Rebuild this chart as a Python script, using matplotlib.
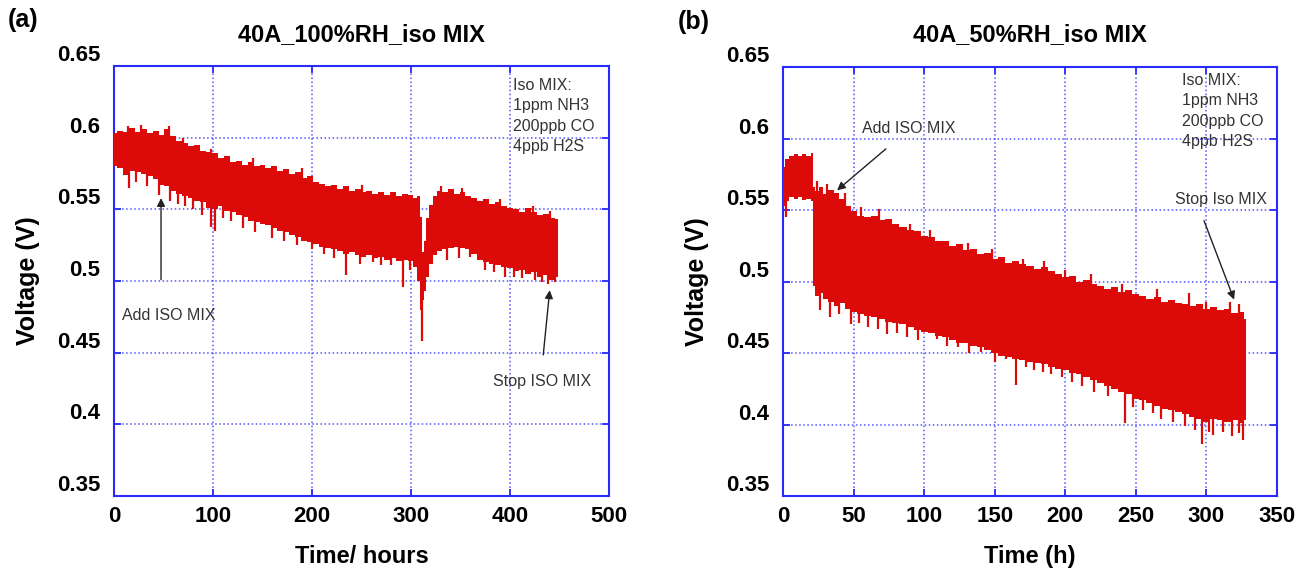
import matplotlib.pyplot as plt
import numpy as np

# ---- panel (a): 40A_100%RH, envelope of the voltage band
t_a = [0, 6, 12, 18, 24, 30, 36, 42, 48, 54, 60, 66, 72, 78, 84, 90, 96, 102, 108, 114,
       120, 126, 132, 138, 144, 150, 156, 162, 168, 174, 180, 186, 192, 198, 204, 210,
       216, 222, 228, 234, 240, 246, 252, 258, 264, 270, 276, 282, 288, 294, 300, 305,
       308, 310, 312, 314, 317, 320, 324, 328, 334, 340, 346, 352, 358, 364, 370, 376,
       382, 388, 394, 400, 406, 412, 418, 424, 430, 436, 442, 448]
top_a = [0.603, 0.605, 0.604, 0.607, 0.604, 0.606, 0.603, 0.605, 0.602, 0.606, 0.601, 0.598,
         0.596, 0.594, 0.595, 0.591, 0.590, 0.589, 0.586, 0.587, 0.583, 0.584, 0.581, 0.583,
         0.580, 0.581, 0.579, 0.580, 0.577, 0.578, 0.575, 0.576, 0.572, 0.573, 0.569, 0.568,
         0.566, 0.567, 0.564, 0.566, 0.563, 0.564, 0.562, 0.563, 0.561, 0.562, 0.560, 0.562,
         0.559, 0.561, 0.560, 0.558, 0.559, 0.545, 0.520, 0.528, 0.544, 0.553, 0.559, 0.563,
         0.562, 0.564, 0.561, 0.562, 0.559, 0.558, 0.556, 0.557, 0.554, 0.555, 0.552, 0.551,
         0.550, 0.548, 0.551, 0.548, 0.546, 0.547, 0.544, 0.543]
bot_a = [0.580, 0.579, 0.574, 0.577, 0.576, 0.575, 0.573, 0.571, 0.567, 0.566, 0.563, 0.561,
         0.559, 0.558, 0.556, 0.555, 0.551, 0.550, 0.552, 0.549, 0.548, 0.546, 0.545, 0.542,
         0.541, 0.540, 0.539, 0.537, 0.535, 0.534, 0.532, 0.531, 0.528, 0.527, 0.526, 0.524,
         0.523, 0.522, 0.521, 0.519, 0.520, 0.518, 0.517, 0.518, 0.516, 0.517, 0.515, 0.516,
         0.514, 0.515, 0.514, 0.510, 0.500, 0.480, 0.487, 0.493, 0.503, 0.512, 0.518, 0.521,
         0.522, 0.523, 0.524, 0.523, 0.522, 0.519, 0.515, 0.513, 0.512, 0.511, 0.510, 0.509,
         0.507, 0.508, 0.505, 0.506, 0.503, 0.504, 0.501, 0.503]
# isolated downward / upward spikes (time, voltage)
dn_t_a = [15, 22, 33, 45, 57, 65, 72, 80, 89, 98, 102, 110, 118, 130, 142, 160, 172, 185,
          200, 212, 222, 234, 248, 262, 270, 280, 292, 299, 311, 336, 348, 360, 375, 384,
          395, 404, 412, 425, 432, 438, 445]
dn_v_a = [0.565, 0.569, 0.566, 0.560, 0.556, 0.554, 0.552, 0.550, 0.546, 0.538, 0.535,
          0.544, 0.542, 0.537, 0.534, 0.530, 0.528, 0.525, 0.522, 0.519, 0.516, 0.504,
          0.512, 0.513, 0.511, 0.511, 0.4957, 0.508, 0.458, 0.515, 0.516, 0.517, 0.508,
          0.506, 0.503, 0.503, 0.502, 0.501, 0.499, 0.498, 0.499]
up_t_a = [14, 27, 56, 70, 98, 140, 190, 250, 330, 352, 390, 423, 440]
up_v_a = [0.608, 0.609, 0.608, 0.600, 0.592, 0.586, 0.579, 0.567, 0.566, 0.565, 0.557,
          0.552, 0.549]

# ---- panel (b): 40A_50%RH
t_b = [0, 3, 6, 9, 12, 15, 18, 21, 22, 24, 27, 30, 34, 38, 42, 46, 50, 55, 60, 65, 70, 75,
       80, 85, 90, 95, 100, 105, 110, 115, 120, 125, 130, 135, 140, 145, 150, 155, 160,
       165, 170, 175, 180, 185, 190, 195, 200, 205, 210, 215, 220, 225, 230, 235, 240,
       245, 250, 255, 260, 265, 270, 275, 280, 285, 290, 295, 300, 305, 310, 315, 320,
       325, 328]
top_b = [0.580, 0.586, 0.588, 0.589, 0.588, 0.589, 0.588, 0.590, 0.566, 0.563, 0.566, 0.561,
         0.564, 0.562, 0.558, 0.553, 0.549, 0.546, 0.545, 0.546, 0.543, 0.544, 0.540, 0.538,
         0.536, 0.535, 0.532, 0.531, 0.528, 0.528, 0.525, 0.526, 0.522, 0.523, 0.519, 0.520,
         0.516, 0.517, 0.513, 0.514, 0.512, 0.511, 0.509, 0.510, 0.507, 0.505, 0.503, 0.504,
         0.500, 0.501, 0.498, 0.497, 0.495, 0.496, 0.493, 0.494, 0.491, 0.490, 0.488, 0.489,
         0.486, 0.487, 0.485, 0.484, 0.483, 0.484, 0.481, 0.482, 0.480, 0.481, 0.478, 0.479,
         0.474]
bot_b = [0.553, 0.556, 0.559, 0.558, 0.559, 0.557, 0.558, 0.556, 0.497, 0.490, 0.492, 0.488,
         0.486, 0.483, 0.485, 0.481, 0.479, 0.477, 0.476, 0.475, 0.474, 0.472, 0.471, 0.470,
         0.468, 0.466, 0.465, 0.464, 0.462, 0.461, 0.459, 0.457, 0.457, 0.455, 0.454, 0.452,
         0.450, 0.448, 0.447, 0.446, 0.445, 0.444, 0.443, 0.442, 0.440, 0.439, 0.438, 0.436,
         0.435, 0.433, 0.431, 0.429, 0.427, 0.425, 0.423, 0.421, 0.418, 0.417, 0.415, 0.413,
         0.411, 0.410, 0.409, 0.407, 0.405, 0.404, 0.402, 0.404, 0.403, 0.402, 0.403, 0.401,
         0.403]
dn_t_b = [2, 26, 33, 40, 48, 54, 60, 67, 74, 81, 88, 96, 109, 116, 124, 132, 140, 150, 158,
          165, 172, 178, 184, 190, 198, 205, 212, 220, 230, 242, 248, 255, 262, 268, 276,
          285, 292, 297, 302, 305, 312, 318, 323, 326]
dn_v_b = [0.545, 0.480, 0.475, 0.477, 0.470, 0.471, 0.468, 0.467, 0.463, 0.464, 0.461, 0.459,
          0.4597, 0.455, 0.4543, 0.450, 0.451, 0.444, 0.446, 0.4275, 0.440, 0.438, 0.437,
          0.435, 0.433, 0.430, 0.427, 0.423, 0.420, 0.4007, 0.412, 0.410, 0.408, 0.404,
          0.402, 0.399, 0.396, 0.3867, 0.395, 0.393, 0.395, 0.392, 0.394, 0.389]
up_t_b = [24, 31, 44, 55, 68, 90, 104, 131, 148, 170, 185, 200, 218, 240, 265, 288, 300,
          317, 323]
up_v_b = [0.570, 0.568, 0.562, 0.552, 0.551, 0.540, 0.536, 0.527, 0.523, 0.516, 0.514,
          0.508, 0.505, 0.498, 0.495, 0.492, 0.486, 0.486, 0.484]

mix_text = 'Iso MIX:\n1ppm NH3\n200ppb CO\n4ppb H2S'

RED = '#dd0a0a'
BLUE = '#2a2aff'
plt.rcParams['font.family'] = ['Liberation Sans', 'DejaVu Sans']
note_font = ['Liberation Sans Narrow', 'Liberation Sans', 'DejaVu Sans']

fig = plt.figure(figsize=(12.99, 5.70), dpi=100)
ax_a = fig.add_axes([114 / 1299, 74 / 570, 495 / 1299, 430 / 570])
ax_b = fig.add_axes([783 / 1299, 74 / 570, 494 / 1299, 429 / 570])


def draw_band(ax, t, top, bot, dn_t, dn_v, up_t, up_v):
    top = np.array(top)
    bot = np.array(bot)
    ax.fill_between(t, bot, top, color=RED, lw=0, step='mid', zorder=3)
    ax.vlines(dn_t, np.interp(dn_t, t, bot) + 0.005, dn_v, color=RED, lw=1.6, zorder=3)
    ax.vlines(up_t, np.interp(up_t, t, top) - 0.005, up_v, color=RED, lw=1.6, zorder=3)


def style_axes(ax, xmax, xstep, xlabel):
    ax.set_xlim(0, xmax)
    ax.set_ylim(0.35, 0.65)
    ax.set_xticks(np.arange(0, xmax + 1, xstep))
    ax.set_yticks([0.35, 0.4, 0.45, 0.5, 0.55, 0.6, 0.65])
    ax.set_yticklabels(['0.35', '0.4', '0.45', '0.5', '0.55', '0.6', '0.65'], va='bottom')
    ax.grid(True, color=BLUE, ls=':', lw=1.1, alpha=0.8, zorder=0)
    ax.set_axisbelow(True)
    for s in ax.spines.values():
        s.set_color(BLUE)
        s.set_linewidth(1.5)
    ax.tick_params(direction='in', length=5, width=1.3, color=BLUE,
                   top=True, right=True, labelsize=16, pad=7)
    ax.tick_params(axis='y', pad=10)
    for lab in ax.get_xticklabels() + ax.get_yticklabels():
        lab.set_fontweight('bold')
    ax.set_xlabel(xlabel, fontsize=17, fontweight='bold', labelpad=13)
    ax.set_ylabel('Voltage (V)', fontsize=18, fontweight='bold', labelpad=12)


draw_band(ax_a, t_a, top_a, bot_a, dn_t_a, dn_v_a, up_t_a, up_v_a)
style_axes(ax_a, 500, 100, 'Time/ hours')
draw_band(ax_b, t_b, top_b, bot_b, dn_t_b, dn_v_b, up_t_b, up_v_b)
style_axes(ax_b, 350, 50, 'Time (h)')

arrow = dict(arrowstyle='-|>', color='#222222', lw=1.0, mutation_scale=12)
txt = dict(fontsize=11.5, color='#333333', family=note_font)

ax_a.text(403, 0.6416, mix_text, va='top', linespacing=1.45, **txt)
ax_a.text(8, 0.4759, 'Add ISO MIX', va='center', **txt)
ax_a.annotate('', xy=(47.5, 0.5598), xytext=(47.5, 0.499), arrowprops=arrow)
ax_a.text(383, 0.430, 'Stop ISO MIX', va='center', **txt)
ax_a.annotate('', xy=(440.4, 0.4955), xytext=(433.3, 0.4465), arrowprops=arrow)

ax_b.text(283, 0.646, mix_text, va='top', linespacing=1.45, **txt)
ax_b.text(56, 0.6073, 'Add ISO MIX', va='center', **txt)
ax_b.annotate('', xy=(36.8, 0.5625), xytext=(74.4, 0.594), arrowprops=arrow)
ax_b.text(278, 0.557, 'Stop Iso MIX', va='center', **txt)
ax_b.annotate('', xy=(320.3, 0.4855), xytext=(297.6, 0.5443), arrowprops=arrow)

fig.text(361 / 1299, 1 - 35 / 570, '40A_100%RH_iso MIX', ha='center', va='center',
         fontsize=17, fontweight='bold')
fig.text(1030 / 1299, 1 - 35 / 570, '40A_50%RH_iso MIX', ha='center', va='center',
         fontsize=17, fontweight='bold')
fig.text(8 / 1299, 1 - 20 / 570, '(a)', ha='left', va='center', fontsize=18, fontweight='bold')
fig.text(678 / 1299, 1 - 22 / 570, '(b)', ha='left', va='center', fontsize=18, fontweight='bold')

fig.savefig('out.png', dpi=100)
